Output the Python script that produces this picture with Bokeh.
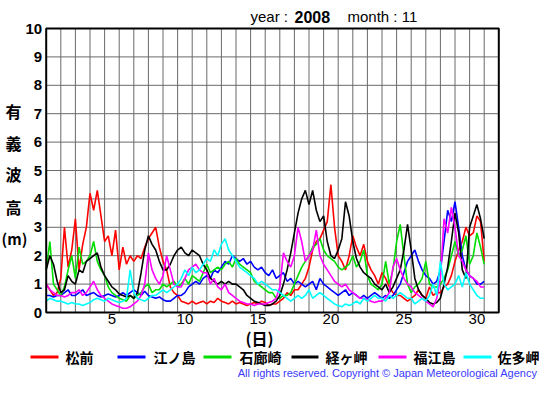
from bokeh.plotting import figure
from bokeh.models import FixedTicker, Label, BoxAnnotation, Range1d
from bokeh.embed import file_html
from bokeh.resources import INLINE

# ---- data (significant wave height, m), 6-hourly from Nov 1 00:00 ----
steps_per_day = 4
matsumae = [1.0,0.8,0.6,0.7, 1.2,3.0,1.6,2.2, 3.3,1.5,2.4,3.0, 4.2,3.6,4.3,3.4, 2.5,2.7,2.0,2.9,
            1.5,2.3,1.7,2.0, 1.8,2.0,1.9,2.3, 2.6,2.8,3.0,2.3, 1.8,1.5,0.9,0.7, 0.6,0.4,0.35,0.3,
            0.4,0.3,0.35,0.4, 0.3,0.4,0.35,0.5, 0.4,0.35,0.3,0.4, 0.3,0.35,0.3,0.25, 0.3,0.35,0.3,0.4,
            0.35,0.25,0.3,0.3, 0.4,0.5,0.7,0.6, 0.8,0.8,1.0,1.2, 1.6,2.2,2.5,2.6, 2.9,3.2,4.5,3.0,
            2.0,1.8,1.5,2.0, 2.7,2.3,2.0,2.4, 1.8,1.5,1.3,1.0, 1.4,1.2,0.9,0.7, 0.6,0.6,0.5,0.4,
            0.5,0.6,0.8,0.6, 0.5,0.9,0.6,0.7, 0.7,0.9,1.0,1.3, 1.8,2.2,2.5,3.0, 2.7,2.8,3.4,3.2, 1.8]
enoshima = [0.6,0.6,0.55,0.6, 0.6,0.7,0.8,0.6, 0.6,0.7,0.8,0.6, 0.65,0.7,0.6,0.55, 0.6,0.65,0.6,0.55,
            0.6,0.7,0.6,0.7, 0.8,0.7,0.6,0.75, 0.6,0.55,0.5,0.55, 0.45,0.4,0.4,0.5, 0.6,0.6,0.7,0.9,
            1.0,1.1,1.0,1.2, 1.3,1.2,1.5,1.4, 1.6,1.8,1.7,2.0, 1.9,1.8,1.9,1.7, 1.8,1.6,1.5,1.6,
            1.4,1.3,1.5,1.2, 1.3,1.4,1.1,1.2, 1.0,1.1,1.0,0.9, 1.0,1.1,0.8,1.2, 1.0,0.9,0.8,0.7,
            0.6,0.7,0.8,0.6, 0.7,0.6,0.5,0.6, 0.5,0.6,0.7,0.6, 0.5,0.6,0.5,0.6, 0.8,1.0,1.4,1.8,
            2.0,2.2,1.8,1.5, 1.3,1.2,1.0,1.1, 1.5,2.5,3.6,3.2, 3.9,3.0,2.0,1.5, 1.3,1.2,1.0,1.0, 1.1]
irozaki = [1.5,2.5,1.0,0.8, 0.6,0.9,1.5,2.0, 1.2,2.3,1.7,1.8, 2.0,2.5,1.8,1.5, 1.3,0.9,0.7,0.6,
           0.5,0.45,0.4,0.6, 0.5,0.6,0.7,0.9, 1.0,0.7,0.8,0.8, 1.0,0.9,1.0,1.1, 0.9,1.0,1.2,1.0,
           1.3,1.2,1.1,1.4, 1.7,1.4,1.5,1.6, 1.5,1.7,1.8,1.6, 1.9,1.7,1.6,1.5, 1.4,1.1,1.0,0.9,
           0.8,0.7,0.7,0.5, 0.5,0.6,0.6,0.7, 1.0,1.3,1.6,1.8, 2.0,2.3,2.4,2.6, 2.2,2.0,1.9,1.8,
           1.6,1.5,1.6,1.7, 2.0,1.6,1.8,2.2, 1.3,1.0,0.9,0.8, 1.0,1.8,1.0,1.5, 2.5,3.1,2.0,1.0,
           0.7,0.9,1.0,1.2, 1.8,1.0,0.9,0.9, 1.0,1.2,1.5,2.0, 2.5,2.0,2.2,2.7, 1.7,2.0,2.8,2.3, 1.7]
kyogamisaki = [1.5,2.0,1.7,1.1, 0.7,0.8,1.3,1.1, 1.0,1.5,1.4,1.8, 1.9,2.0,2.1,1.6, 1.3,1.1,0.9,0.8,
               0.65,0.6,0.55,0.6, 0.5,0.7,1.4,2.2, 2.7,2.4,2.2,1.8, 1.5,1.5,1.7,2.0, 2.2,2.3,2.1,2.0,
               2.2,2.1,2.0,1.7, 1.5,1.2,1.1,1.0, 1.1,1.0,1.1,1.0, 1.0,0.9,0.8,0.6, 0.5,0.4,0.35,0.3,
               0.25,0.25,0.3,0.4, 0.6,1.0,1.5,2.1, 2.8,3.5,4.0,4.3, 3.8,4.3,3.6,3.2, 3.4,2.5,2.0,1.9,
               2.2,2.6,3.9,3.4, 2.5,1.9,1.6,1.4, 1.3,1.2,1.0,0.9, 0.8,1.0,0.7,0.9, 1.2,1.5,2.2,3.1,
               2.2,1.2,0.8,0.6, 0.5,0.35,0.3,0.35, 0.5,1.0,1.6,2.5, 3.5,2.8,1.5,1.2, 3.0,3.4,3.8,3.3, 2.6]
fukuejima = [1.0,0.8,0.7,0.6, 0.6,0.55,0.6,0.7, 0.7,0.8,0.6,0.7, 0.9,1.1,0.8,0.6, 0.5,0.4,0.3,0.25,
             0.2,0.15,0.15,0.2, 0.3,0.4,0.6,1.0, 2.1,1.5,1.2,1.0, 1.3,2.0,1.5,1.0, 0.9,0.9,1.2,1.5,
             1.6,1.7,1.5,1.4, 1.4,1.0,1.2,0.9, 0.8,1.0,0.7,0.6, 0.5,0.4,0.35,0.3, 0.3,0.25,0.3,0.3,
             0.3,0.35,0.4,0.5, 0.9,2.1,1.8,1.6, 2.0,3.0,2.5,1.8, 2.0,2.2,2.9,2.0, 1.7,1.5,1.3,1.1,
             1.0,0.9,1.0,0.8, 0.7,0.6,0.5,0.5, 0.45,0.4,0.35,0.4, 0.4,0.5,0.7,1.6, 1.9,1.5,1.2,1.0,
             0.9,0.7,0.6,0.5, 0.4,0.3,0.2,0.5, 1.2,3.3,2.8,3.7, 3.0,2.0,1.8,1.5, 1.3,1.2,1.1,0.9, 0.9]
satamisaki = [0.4,0.5,0.45,0.4, 0.4,0.35,0.3,0.35, 0.3,0.3,0.25,0.3, 0.35,0.45,0.5,0.45, 0.4,0.5,0.45,0.4,
              0.35,0.4,0.5,1.5, 0.7,0.5,0.45,0.4, 0.5,0.6,0.6,0.7, 0.8,0.7,0.8,0.9, 1.0,1.2,1.5,1.3,
              1.6,1.4,1.5,1.7, 1.9,1.8,2.2,2.0, 2.4,2.6,2.2,2.0, 1.8,1.6,1.5,1.4, 1.3,1.2,1.0,1.1,
              1.0,0.9,0.8,0.8, 0.7,0.6,0.5,0.4, 0.5,0.6,0.5,0.6, 0.8,0.5,0.6,0.7, 0.6,0.5,0.4,0.3,
              0.25,0.2,0.3,0.25, 0.3,0.4,0.3,0.5, 0.4,0.5,0.6,0.5, 0.5,0.4,0.6,0.5, 0.6,0.7,0.6,0.5,
              0.5,0.3,0.4,0.5, 0.4,0.6,1.0,0.6, 1.8,1.0,0.8,0.9, 1.0,1.3,0.9,1.4, 1.0,0.8,0.6,0.5, 0.5]

stations = ["松前", "江ノ島", "石廊崎", "経ヶ岬", "福江島", "佐多岬"]
series = [matsumae, enoshima, irozaki, kyogamisaki, fukuejima, satamisaki]
colors = ["#ff0000", "#0000ff", "#00dd00", "#000000", "#ff00ff", "#00ffff"]
x_tick_pos = [5.5, 10.5, 15.5, 20.5, 25.5, 30.5]
x_tick_labels = ["5", "10", "15", "20", "25", "30"]
y_ticks = list(range(0, 11))
x_grid = list(range(2, 32))
y_grid = list(range(1, 10))
year_text, month_text = "2008", "11"

t = [1 + i / steps_per_day for i in range(len(matsumae))]

FONT = "Liberation Sans"
CJK = "Noto Sans CJK JP"

# ---- layout: the frame fills the whole canvas; plot box is drawn inside it ----
W, H = 539, 379
XMIN, XMAX, YMIN, YMAX = 1, 32, 0, 10
BOX_L, BOX_R, BOX_T, BOX_B = 45.7, 498.3, 28.0, 312.0      # pixel box of the plot area
pxx = (BOX_R - BOX_L) / (XMAX - XMIN)
pxy = (BOX_B - BOX_T) / (YMAX - YMIN)
xr = Range1d(XMIN - BOX_L / pxx, XMIN - BOX_L / pxx + W / pxx)
yr = Range1d(YMIN - (H - BOX_B) / pxy, YMIN - (H - BOX_B) / pxy + H / pxy)

p = figure(width=W, height=H, output_backend="svg", toolbar_location=None,
           x_range=xr, y_range=yr, min_border=0)
p.background_fill_color = "white"
p.border_fill_color = "white"
p.outline_line_color = None
p.xgrid.visible = False
p.ygrid.visible = False

# grid
p.segment(x0=x_grid, y0=[YMIN] * len(x_grid), x1=x_grid, y1=[YMAX] * len(x_grid),
          line_color="#6a6a6a", line_width=1)
p.segment(x0=[XMIN] * len(y_grid), y0=y_grid, x1=[XMAX] * len(y_grid), y1=y_grid,
          line_color="#6a6a6a", line_width=1)

for ys, c in zip(series, colors):
    p.line(t, ys, line_color=c, line_width=1.6)

# plot box
p.quad(left=[XMIN], right=[XMAX], bottom=[YMIN], top=[YMAX], fill_color=None,
       line_color="black", line_width=2)

# axes fixed onto the plot box edges
p.xaxis.fixed_location = YMIN
p.yaxis.fixed_location = XMIN
p.xaxis.ticker = FixedTicker(ticks=x_tick_pos)
p.xaxis.major_label_overrides = {k: v for k, v in zip(x_tick_pos, x_tick_labels)}
p.yaxis.ticker = FixedTicker(ticks=y_ticks)
for ax in (p.xaxis[0], p.yaxis[0]):
    ax.axis_line_color = None
    ax.major_tick_line_color = None
    ax.minor_tick_line_color = None
    ax.major_tick_in = 0
    ax.major_tick_out = 0
    ax.major_label_text_font = FONT
    ax.major_label_text_color = "black"
p.xaxis.major_label_text_font_size = "15px"
p.xaxis.major_label_standoff = 1
p.yaxis.major_label_text_font_size = "15px"
p.yaxis.major_label_text_font_style = "bold"
p.yaxis.major_label_standoff = 4


def lab(text, X, Y, size, font=FONT, style="normal", align="left", color="black"):
    p.add_layout(Label(x=X, y=H - Y, x_units="screen", y_units="screen", text=text,
                       text_font=font, text_font_size=size, text_font_style=style,
                       text_align=align, text_baseline="middle", text_color=color))


# title
lab("year :", 250, 16, "15px")
lab(year_text, 294, 16, "16px", style="bold")
lab("month : " + month_text, 347, 16, "15px")

# y title (vertical)
for ch, Y in zip(["有", "義", "波", "高"], [110, 142, 173, 206]):
    lab(ch, 13, Y, "16px", font=CJK, style="bold", align="center")
lab("(m)", 14, 238, "15px", font=CJK, style="bold", align="center")

# x title
lab("(日)", 259, 337, "16px", font=CJK, style="bold", align="center")

# legend
line_spans = [(30, 58), (117, 145), (203, 231), (291, 318), (378, 406), (463, 491)]
text_x = [65, 153, 239, 325, 413, 497]
for name, c, (a, b), tx in zip(stations, colors, line_spans, text_x):
    p.add_layout(BoxAnnotation(left=a, right=b, bottom=H - 358, top=H - 355,
                               left_units="screen", right_units="screen",
                               bottom_units="screen", top_units="screen",
                               fill_color=c, fill_alpha=1.0, line_color=None))
    lab(name, tx, 356, "14px", font=CJK, style="bold")

# copyright
lab("All rights reserved. Copyright © Japan Meteorological Agency", 537, 372, "11px",
    align="right", color="#3a3aff")

open("out.html", "w").write(file_html(p, INLINE))
